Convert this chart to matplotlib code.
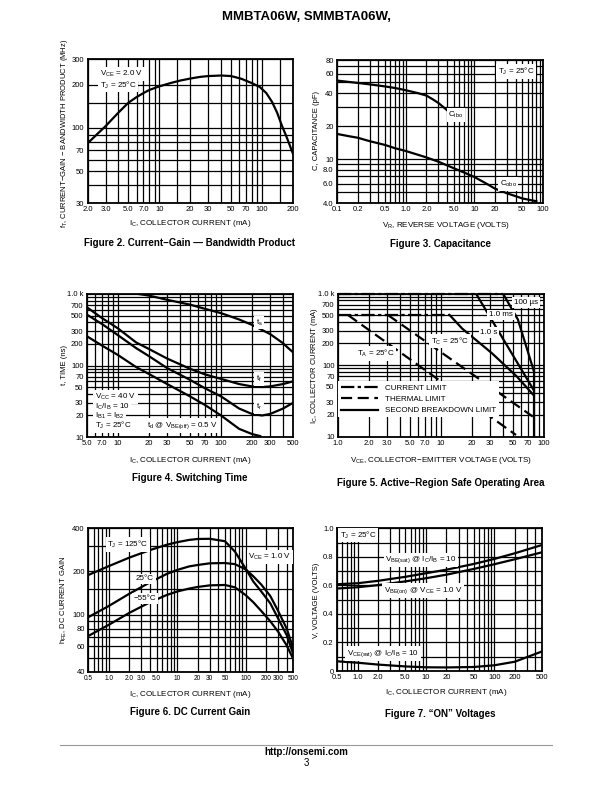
#!/usr/bin/env python3
# -*- coding: utf-8 -*-
import matplotlib
matplotlib.use("Agg")
import matplotlib.pyplot as plt

plt.rcParams["font.family"] = ["Liberation Sans Narrow", "Liberation Sans", "DejaVu Sans"]
plt.rcParams["mathtext.fontset"] = "custom"
plt.rcParams["mathtext.rm"] = "Liberation Sans"

# ---- Figure 2: fT vs IC
f2_ic = [2, 2.5, 3, 4, 5, 6, 7, 8, 10, 13, 16, 20, 25, 30, 40, 50, 63, 80, 95, 110, 125, 140, 155, 175, 200]
f2_ft = [78, 91, 103, 128, 150, 164, 175, 184, 195, 206, 214, 221, 227, 230, 232, 230, 220, 205, 193, 175,
         152, 128, 105, 85, 66]

# ---- Figure 3: capacitance
f3_vr_ibo = [0.1, 0.15, 0.2, 0.3, 0.5, 0.7, 1.0, 1.5, 2.0, 2.5, 3.0, 3.5, 4.0]
f3_cibo = [52, 50.5, 49.5, 48, 46, 44.5, 42.5, 40, 38, 35, 32.5, 30, 28]
f3_vr_obo = [0.1, 0.15, 0.2, 0.3, 0.5, 0.7, 1.0, 1.5, 2.0, 3.0, 5.0, 7.0, 10, 15, 20, 30, 50, 80]
f3_cobo = [17, 16.2, 15.7, 14.6, 13.5, 12.6, 11.9, 11.0, 10.4, 9.5, 8.3, 7.6, 6.9, 6.0, 5.4, 4.9, 4.4, 4.15]

# ---- Figure 4: switching time
f4_ic_ts = [15.8, 20, 30, 50, 70, 100, 150, 200, 300, 400, 450, 500]
f4_ts = [1000, 950, 830, 710, 620, 540, 440, 370, 275, 205, 175, 153]
f4_ic = [5, 7, 10, 15, 20, 30, 50, 70, 100, 150, 200, 250, 300, 400, 500]
f4_tf = [650, 460, 330, 210, 170, 125, 90, 75, 65, 55, 51, 50, 51, 55, 60]
f4_tr = [514, 380, 265, 175, 135, 92, 63, 48, 37, 25, 21, 20, 21, 25, 30]
f4_ic_td = [5, 7, 10, 15, 20, 30, 50, 70, 100, 150, 200, 240]
f4_td = [256, 190, 140, 95, 76, 55, 37, 28, 20, 13, 11, 10.3]

# ---- Figure 5: safe operating area
f5_vce_lim_dc = [1.0, 12.2]
f5_ic_lim_dc = [500, 500]
f5_vce_lim_pk = [1.0, 40]
f5_ic_lim_pk = [1000, 1000]
f5_vce_ta = [1.25, 54]
f5_ic_ta = [500, 10.5]
f5_vce_tc = [3.06, 78.7]
f5_ic_tc = [500, 19]
f5_vce_1s = [12.2, 16.1, 31.5, 55, 80]
f5_ic_1s = [500, 325, 146, 69, 38]
f5_vce_1ms = [22, 80]
f5_ic_1ms = [1000, 45]
f5_vce_100us = [40.3, 56.3, 80]
f5_ic_100us = [1000, 434, 85]
f5_vce_bv = [80, 80]
f5_ic_bv = [85, 10]

# ---- Figure 6: DC current gain
f6_ic = [0.5, 1, 2, 4, 7, 10, 15, 20, 30, 50, 70, 100, 130, 170, 230, 300, 400, 500]
f6_h125 = [189, 218, 250, 282, 307, 320, 332, 337, 338, 325, 275, 210, 170, 145, 120, 94, 72, 53]
f6_h25 = [96, 115, 140, 168, 192, 205, 217, 222, 228, 229, 225, 207, 185, 162, 135, 106, 80, 58]
f6_hm55 = [71, 85, 103, 122, 137, 145, 152, 156, 160, 161, 155, 137, 122, 106, 90, 76, 61, 49]

# ---- Figure 7: ON voltages
f7_ic = [0.5, 1, 2, 5, 10, 20, 50, 100, 200, 500]
f7_vbesat = [0.608, 0.615, 0.632, 0.66, 0.685, 0.71, 0.75, 0.785, 0.825, 0.883]
f7_vbeon = [0.578, 0.587, 0.602, 0.628, 0.65, 0.675, 0.715, 0.748, 0.783, 0.832]
f7_vcesat = [0.068, 0.058, 0.045, 0.032, 0.026, 0.025, 0.028, 0.04, 0.065, 0.137]

W, H = 612, 792
fig = plt.figure(figsize=(W / 100, H / 100), dpi=100)
LW = 1.6
TXT = 5.8


def logsub(lo, hi):
    out = []
    e = -2
    while 10 ** e <= hi:
        for m in range(1, 10):
            v = round(m * 10 ** e, 6)
            if lo < v < hi:
                out.append(v)
        e += 1
    return out


def panel(box, xlim, ylim, xt, xl, yt, yl, xg, yg, ylog=True, xsize=5.5):
    l, t, r, b = box
    ax = fig.add_axes([l / W, 1 - b / H, (r - l) / W, (b - t) / H])
    ax.set_xscale("log")
    if ylog:
        ax.set_yscale("log")
    ax.set_xlim(xlim)
    ax.set_ylim(ylim)
    ax.set_xticks(xt, xl)
    ax.set_yticks(yt, yl)
    ax.set_xticks(xg, minor=True)
    ax.set_yticks(yg, minor=True)
    ax.xaxis.set_minor_formatter(plt.NullFormatter())
    ax.yaxis.set_minor_formatter(plt.NullFormatter())
    ax.grid(True, which="both", color="black", lw=0.9)
    ax.tick_params(which="both", length=0, labelsize=5.5, pad=2.5)
    ax.tick_params(axis="x", labelsize=xsize)
    for s in ax.spines.values():
        s.set_linewidth(1.3)
    return ax


def txt(x, y, s, size=TXT, box=True, **kw):
    kw.setdefault("ha", "center")
    kw.setdefault("va", "center")
    bb = dict(fc="white", ec="none", pad=1.2) if box else None
    fig.text(x / W, 1 - y / H, s, fontsize=size, bbox=bb, zorder=5, **kw)


def sub(a, b):
    return r"$\mathregular{" + a + "_{" + b + "}}$"


def caption(x, y, s):
    txt(x, y, s, size=7, box=False, weight="bold", family=["Liberation Sans"])


# ---------------- header / footer
txt(306, 17, "MMBTA06W, SMMBTA06W,", size=9.5, box=False, weight="bold")
fig.add_artist(plt.Line2D([60 / W, 552 / W], [1 - 744.5 / H] * 2, color="#999999", lw=0.8))
txt(306, 752, "http://onsemi.com", size=7, box=False, weight="bold")
txt(306, 763, "3", size=7, box=False)

# ---------------- Figure 2
ax = panel((87.5, 59.5, 293, 203), (2, 200), (30, 300),
           [2, 3, 5, 7, 10, 20, 30, 50, 70, 100, 200],
           ["2.0", "3.0", "5.0", "7.0", "10", "20", "30", "50", "70", "100", "200"],
           [30, 50, 70, 100, 200, 300], ["30", "50", "70", "100", "200", "300"],
           logsub(2, 200) + [15, 150], [40, 60, 80, 90, 150])
ax.plot(f2_ic, f2_ft, color="black", lw=LW)
txt(100, 74, sub("V", "CE") + " = 2.0 V", ha="left")
txt(100, 85, sub("T", "J") + " = 25°C", ha="left")
txt(190, 223.5, sub("I", "C") + ", COLLECTOR CURRENT (mA)", box=False)
txt(65, 133, sub("f", "T") + ", CURRENT\u2212GAIN \u2212 BANDWIDTH PRODUCT (MHz)", box=False, rotation=90, size=5.5)
caption(190, 243, "Figure 2. Current\u2212Gain \u2014 Bandwidth Product")

# ---------------- Figure 3
ax = panel((337, 60, 543, 203), (0.1, 100), (4, 80),
           [0.1, 0.2, 0.5, 1, 2, 5, 10, 20, 50, 100],
           ["0.1", "0.2", "0.5", "1.0", "2.0", "5.0", "10", "20", "50", "100"],
           [4, 6, 8, 10, 20, 40, 60, 80], ["4.0", "6.0", "8.0", "10", "20", "40", "60", "80"],
           logsub(0.1, 100), logsub(4, 80))
ax.plot(f3_vr_ibo, f3_cibo, color="black", lw=LW)
ax.plot(f3_vr_obo, f3_cobo, color="black", lw=LW)
txt(516, 71.5, sub("T", "J") + " = 25°C")
txt(456, 115, sub("C", "ibo"))
txt(508, 184, sub("C", "obo"))
txt(446, 225, sub("V", "R") + ", REVERSE VOLTAGE (VOLTS)", box=False)
txt(316, 131, "C, CAPACITANCE (pF)", box=False, rotation=90, size=5.5)
caption(440, 244, "Figure 3. Capacitance")

# ---------------- Figure 4
ax = panel((87, 294, 293, 437), (5, 500), (10, 1000),
           [5, 7, 10, 20, 30, 50, 70, 100, 200, 300, 500],
           ["5.0", "7.0", "10", "20", "30", "50", "70", "100", "200", "300", "500"],
           [10, 20, 30, 50, 70, 100, 200, 300, 500, 700, 1000],
           ["10", "20", "30", "50", "70", "100", "200", "300", "500", "700", "1.0 k"],
           logsub(5, 500), logsub(10, 1000))
ax.plot(f4_ic_ts, f4_ts, color="black", lw=LW)
ax.plot(f4_ic, f4_tf, color="black", lw=LW)
ax.plot(f4_ic, f4_tr, color="black", lw=LW)
ax.plot(f4_ic_td, f4_td, color="black", lw=LW)
txt(259, 322.5, sub("t", "s"))
txt(259, 379, sub("t", "f"))
txt(259, 407, sub("t", "r"))
for i, s in enumerate([sub("V", "CC") + " = 40 V", sub("I", "C") + "/" + sub("I", "B") + " = 10",
                       sub("I", "B1") + " = " + sub("I", "B2"), sub("T", "J") + " = 25°C"]):
    txt(95, 397 + 9.6 * i, s, ha="left")
txt(182, 425.5, sub("t", "d") + " @ " + sub("V", "BE(off)") + " = 0.5 V")
txt(190, 460, sub("I", "C") + ", COLLECTOR CURRENT (mA)", box=False)
txt(65, 365, "t, TIME (ns)", box=False, rotation=90, size=5.5)
caption(190, 478, "Figure 4. Switching Time")

# ---------------- Figure 5
ax = panel((338, 293.5, 543.5, 436.5), (1, 100), (10, 1000),
           [1, 2, 3, 5, 7, 10, 20, 30, 50, 70, 100],
           ["1.0", "2.0", "3.0", "5.0", "7.0", "10", "20", "30", "50", "70", "100"],
           [10, 20, 30, 50, 70, 100, 200, 300, 500, 700, 1000],
           ["10", "20", "30", "50", "70", "100", "200", "300", "500", "700", "1.0 k"],
           logsub(1, 100), logsub(10, 1000))
dashdot = (0, (6, 1.5, 1.5, 1.5))
dashed = (0, (5, 2.5))
h1, = ax.plot(f5_vce_lim_dc, f5_ic_lim_dc, color="black", lw=LW, ls=dashdot)
ax.plot(f5_vce_lim_pk, f5_ic_lim_pk, color="black", lw=LW, ls=dashdot, clip_on=False)
h2, = ax.plot(f5_vce_ta, f5_ic_ta, color="black", lw=LW, ls=dashed)
ax.plot(f5_vce_tc, f5_ic_tc, color="black", lw=LW, ls=dashed)
h3, = ax.plot(f5_vce_1s, f5_ic_1s, color="black", lw=LW)
ax.plot(f5_vce_1ms, f5_ic_1ms, color="black", lw=LW)
ax.plot(f5_vce_100us, f5_ic_100us, color="black", lw=LW)
ax.plot(f5_vce_bv, f5_ic_bv, color="black", lw=LW)
leg = ax.legend([h1, h2, h3], ["CURRENT LIMIT", "THERMAL LIMIT", "SECOND BREAKDOWN LIMIT"],
                loc="upper left", bbox_to_anchor=(0.0, 0.385), fontsize=TXT, frameon=True,
                fancybox=False, edgecolor="none", framealpha=1, handlelength=4.6,
                handletextpad=0.9, labelspacing=0.45, borderpad=0.35, borderaxespad=0)
leg.set_zorder(5)
txt(526, 302.5, "100 µs")
txt(501, 315, "1.0 ms")
txt(489, 332.5, "1.0 s")
txt(450, 341, sub("T", "C") + " = 25°C")
txt(376, 353.5, sub("T", "A") + " = 25°C")
txt(441, 460, sub("V", "CE") + ", COLLECTOR\u2212EMITTER VOLTAGE (VOLTS)", box=False)
txt(315, 366, sub("I", "C") + ", COLLECTOR CURRENT (mA)", box=False, rotation=90, size=5.5)
caption(441, 483, "Figure 5. Active\u2212Region Safe Operating Area")

# ---------------- Figure 6
ax = panel((88.3, 528.3, 293.3, 671.7), (0.5, 500), (40, 400),
           [0.5, 1, 2, 3, 5, 10, 20, 30, 50, 100, 200, 300, 500],
           ["0.5", "1.0", "2.0", "3.0", "5.0", "10", "20", "30", "50", "100", "200", "300", "500"],
           [40, 60, 80, 100, 200, 400], ["40", "60", "80", "100", "200", "400"],
           logsub(0.5, 500), [50, 70, 90, 150, 300], xsize=4.7)
ax.plot(f6_ic, f6_h125, color="black", lw=LW)
ax.plot(f6_ic, f6_h25, color="black", lw=LW)
ax.plot(f6_ic, f6_hm55, color="black", lw=LW)
txt(128, 544.5, sub("T", "J") + " = 125°C")
txt(270, 557, sub("V", "CE") + " = 1.0 V")
txt(145, 579, "25°C")
txt(145, 598.5, "\u221255°C")
txt(190, 694, sub("I", "C") + ", COLLECTOR CURRENT (mA)", box=False)
txt(64, 600, sub("h", "FE") + ", DC CURRENT GAIN", box=False, rotation=90, size=5.5)
caption(190, 712, "Figure 6. DC Current Gain")

# ---------------- Figure 7
ax = panel((337, 528.3, 542, 671), (0.5, 500), (0, 1.0),
           [0.5, 1, 2, 5, 10, 20, 50, 100, 200, 500],
           ["0.5", "1.0", "2.0", "5.0", "10", "20", "50", "100", "200", "500"],
           [0, 0.2, 0.4, 0.6, 0.8, 1.0], ["0", "0.2", "0.4", "0.6", "0.8", "1.0"],
           logsub(0.5, 500), [0.1, 0.3, 0.5, 0.7, 0.9], ylog=False)
ax.plot(f7_ic, f7_vbesat, color="black", lw=LW)
ax.plot(f7_ic, f7_vbeon, color="black", lw=LW)
ax.plot(f7_ic, f7_vcesat, color="black", lw=LW)
txt(358, 535, sub("T", "J") + " = 25°C")
txt(421, 560, sub("V", "BE(sat)") + " @ " + sub("I", "C") + "/" + sub("I", "B") + " = 10")
txt(423, 590.5, sub("V", "BE(on)") + " @ " + sub("V", "CE") + " = 1.0 V")
txt(383, 653.5, sub("V", "CE(sat)") + " @ " + sub("I", "C") + "/" + sub("I", "B") + " = 10")
txt(446, 693, sub("I", "C") + ", COLLECTOR CURRENT (mA)", box=False)
txt(316, 600, "V, VOLTAGE (VOLTS)", box=False, rotation=90, size=5.5)
caption(440, 714, "Figure 7. \u201cON\u201d Voltages")

fig.savefig("out.png", dpi=100)
